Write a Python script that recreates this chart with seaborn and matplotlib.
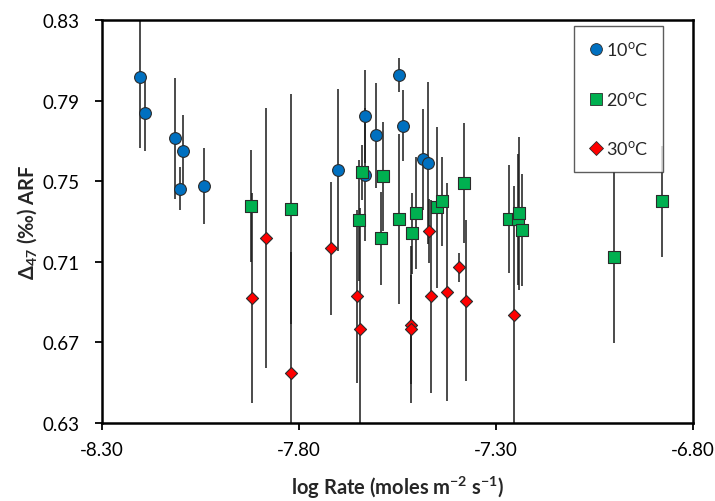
import matplotlib
matplotlib.use("Agg")
import matplotlib.pyplot as plt
from matplotlib.lines import Line2D
import numpy as np
import pandas as pd
import seaborn as sns

# log rate, clumped isotope value, 1-sigma error
x10 = [-8.203, -8.190, -8.114, -8.095, -8.102, -8.040, -7.701, -7.633, -7.632, -7.604, -7.545, -7.536, -7.485, -7.472]
y10 = [0.8016, 0.7838, 0.7713, 0.7648, 0.7463, 0.7476, 0.7556, 0.7822, 0.7531, 0.7727, 0.8027, 0.7776, 0.7608, 0.7590]
e10 = [0.035, 0.019, 0.030, 0.018, 0.0105, 0.019, 0.040, 0.023, 0.033, 0.026, 0.0085, 0.0175, 0.025, 0.040]

x20 = [-7.922, -7.821, -7.640, -7.649, -7.587, -7.593, -7.547, -7.512, -7.503, -7.450, -7.436, -7.381,
       -7.267, -7.245, -7.241, -7.234, -7.001, -6.878]
y20 = [0.7377, 0.7362, 0.7544, 0.7306, 0.7524, 0.7217, 0.7312, 0.7241, 0.7342, 0.7370, 0.7400, 0.7491,
       0.7312, 0.7312, 0.7341, 0.7258, 0.7122, 0.7400]
e20 = [0.028, 0.057, 0.0135, 0.030, 0.027, 0.023, 0.042, 0.020, 0.028, 0.040, 0.022, 0.030,
       0.027, 0.0325, 0.038, 0.028, 0.0425, 0.0277]

x30 = [-7.920, -7.883, -7.821, -7.720, -7.653, -7.646, -7.515, -7.515, -7.470, -7.464, -7.424, -7.395, -7.375, -7.254]
y30 = [0.6920, 0.7220, 0.6548, 0.7168, 0.6929, 0.6767, 0.6787, 0.6765, 0.7254, 0.6929, 0.6949, 0.7073, 0.6906, 0.6838]
e30 = [0.052, 0.0645, 0.060, 0.033, 0.043, 0.060, 0.039, 0.027, 0.016, 0.048, 0.054, 0.0073, 0.040, 0.064]

groups = ["10", "20", "30"]
labels = ["10$^{\\mathrm{o}}$C", "20$^{\\mathrm{o}}$C", "30$^{\\mathrm{o}}$C"]
colors = {"10": "#0070C0", "20": "#00B050", "30": "#FF0000"}
markers = {"10": "o", "20": "s", "30": "D"}
sizes = {"10": 72, "20": 72, "30": 38}

yticks = [0.63, 0.67, 0.71, 0.75, 0.79, 0.83]
xticks = [-8.30, -7.80, -7.30, -6.80]

df = pd.concat([
    pd.DataFrame({"rate": x10, "d47": y10, "err": e10, "temp": "10"}),
    pd.DataFrame({"rate": x20, "d47": y20, "err": e20, "temp": "20"}),
    pd.DataFrame({"rate": x30, "d47": y30, "err": e30, "temp": "30"}),
], ignore_index=True)

sns.set_style("white")
plt.rcParams["font.family"] = ["Lato", "DejaVu Sans"]
plt.rcParams["mathtext.fontset"] = "custom"
plt.rcParams["mathtext.rm"] = "Lato"
plt.rcParams["mathtext.bf"] = "Lato:bold"

fig = plt.figure(figsize=(7.15, 5.02), dpi=100)
ax = fig.add_axes([0.1427, 0.1554, 0.8265, 0.8028])

ax.errorbar(df["rate"], df["d47"], yerr=df["err"], fmt="none",
            ecolor="#1a1a1a", elinewidth=1.1, capsize=0, zorder=1)

for g in groups:
    sub = df[df["temp"] == g]
    sns.scatterplot(data=sub, x="rate", y="d47", ax=ax, color=colors[g],
                    marker=markers[g], s=sizes[g], edgecolor="#2b2b2b",
                    linewidth=0.8, zorder=3, legend=False)

ax.set_xlim(-8.30, -6.80)
ax.set_ylim(0.63, 0.83)
ax.set_xticks(xticks)
ax.set_xticklabels([f"{t:.2f}" for t in xticks])
ax.set_yticks(yticks)
ax.set_yticklabels([f"{t:.2f}" for t in yticks])
ax.tick_params(direction="out", length=5, width=1.3, labelsize=13.5,
               bottom=True, left=True, colors="black")
ax.tick_params(axis="y", pad=11)
ax.tick_params(axis="x", pad=8)

for sp in ax.spines.values():
    sp.set_visible(True)
    sp.set_color("black")
    sp.set_linewidth(1.8)

ax.set_xlabel("log Rate (moles m$\\mathbf{^{-2}}$ s$\\mathbf{^{-1}}$)",
              fontsize=14.5, fontweight="bold", labelpad=11)
ax.set_ylabel("$\\mathbf{\\Delta_{47}}$ (‰) ARF", fontsize=14.5,
              fontweight="bold", labelpad=3)

handles = [Line2D([], [], linestyle="none", marker=markers[g], color=colors[g],
                  markeredgecolor="#2b2b2b", markeredgewidth=0.6,
                  markersize=8.5 if g != "30" else 7)
           for g in groups]
leg = ax.legend(handles, labels, loc="upper left", bbox_to_anchor=(0.799, 0.986),
                frameon=True, fancybox=False, edgecolor="#333333", fontsize=13,
                labelspacing=1.7, handletextpad=0.15, handlelength=0.8,
                borderpad=0.8, borderaxespad=0)
leg.get_frame().set_linewidth(1.0)

fig.savefig("out.png", dpi=100)
